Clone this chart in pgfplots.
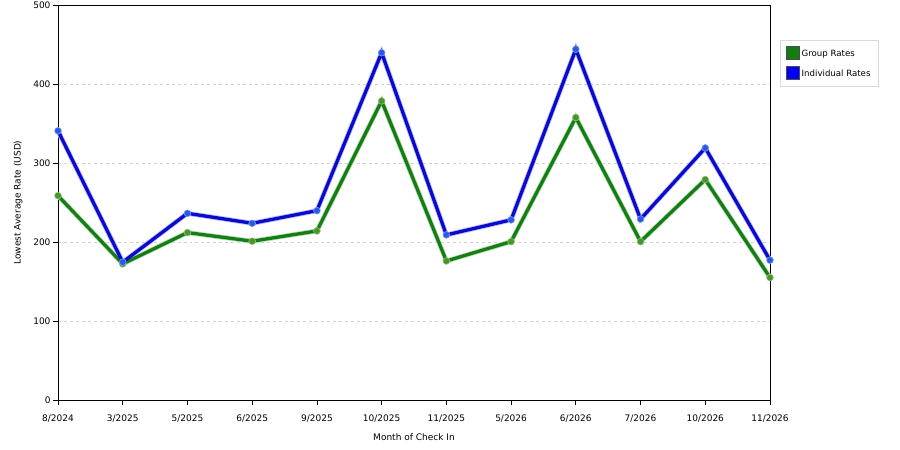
\documentclass[border=0pt]{standalone}
\usepackage{fontspec}
\setmainfont{DejaVu Sans}
\usepackage{pgfplots}
\pgfplotsset{compat=1.18}

\definecolor{grp}{RGB}{20,125,20}
\definecolor{grpmark}{RGB}{70,150,40}
\definecolor{ind}{RGB}{10,10,205}
\definecolor{indmark}{RGB}{40,90,230}

\begin{document}
\begin{tikzpicture}
\useasboundingbox (0,0) rectangle (900bp,450bp);
\begin{axis}[
  at={(58bp,50bp)}, anchor=south west,
  scale only axis, width=712bp, height=395bp,
  xmin=0, xmax=11, ymin=0, ymax=500,
  xtick={0,...,11},
  xticklabels={8/2024,3/2025,5/2025,6/2025,9/2025,10/2025,11/2025,5/2026,6/2026,7/2026,10/2026,11/2026},
  ytick={0,100,...,500},
  xtick pos=bottom, ytick pos=left,
  tick align=outside, major tick length=5bp,
  tick style={black, line width=0.8pt},
  axis line style={black, line width=0.8pt},
  ymajorgrids, major grid style={dashed, gray!35, line width=0.6pt},
  ticklabel style={font=\fontsize{9bp}{11bp}\selectfont},
  /pgf/number format/assume math mode=true,
  xticklabel style={yshift=-6bp},
  yticklabel style={xshift=1bp},
  xlabel={Month of Check In}, ylabel={Lowest Average Rate (USD)},
  label style={font=\fontsize{9bp}{11bp}\selectfont},
  xlabel style={yshift=-5bp},
  ylabel style={yshift=4bp},
  legend style={at={(1.0140,0.911)}, anchor=north west, draw=gray!30,
    font=\fontsize{8.6bp}{10bp}\selectfont, row sep=6bp,
    inner xsep=6bp, inner ysep=6bp, nodes={inner sep=2bp}},
  legend cell align=left,
  clip=false,
]
% halo
\addplot[forget plot, green!50!black!25, line width=5bp] coordinates {
(0,258.6) (1,172.3) (2,211.9) (3,201) (4,214) (5,378.5) (6,176) (7,200.5) (8,357.6) (9,200.5) (10,279) (11,155)};
\addplot[forget plot, blue!25, line width=5bp] coordinates {
(0,340.7) (1,174.5) (2,236.3) (3,223.7) (4,239.7) (5,439.6) (6,209) (7,228) (8,444) (9,229) (10,319) (11,177)};
% Group Rates
\addplot[forget plot, grp, line width=3.3bp, mark=*, mark size=3.4bp,
  mark options={fill=grpmark, draw=grpmark!60, line width=0.6pt}] coordinates {
(0,258.6) (1,172.3) (2,211.9) (3,201) (4,214) (5,378.5) (6,176) (7,200.5) (8,357.6) (9,200.5) (10,279) (11,155)};
% Individual Rates
\addplot[forget plot, ind, line width=3.3bp, mark=*, mark size=3.4bp,
  mark options={fill=indmark, draw=indmark!60, line width=0.6pt}] coordinates {
(0,340.7) (1,174.5) (2,236.3) (3,223.7) (4,239.7) (5,439.6) (6,209) (7,228) (8,444) (9,229) (10,319) (11,177)};
\addlegendimage{legend image code/.code={\draw[fill=grp, draw=black!70, line width=0.5pt] (4bp,-5.5bp) rectangle (17bp,7.5bp);}}
\addlegendentry{Group Rates}
\addlegendimage{legend image code/.code={\draw[fill=blue, draw=black!70, line width=0.5pt] (4bp,-5.5bp) rectangle (17bp,7.5bp);}}
\addlegendentry{Individual Rates}
\end{axis}
\end{tikzpicture}
\end{document}
